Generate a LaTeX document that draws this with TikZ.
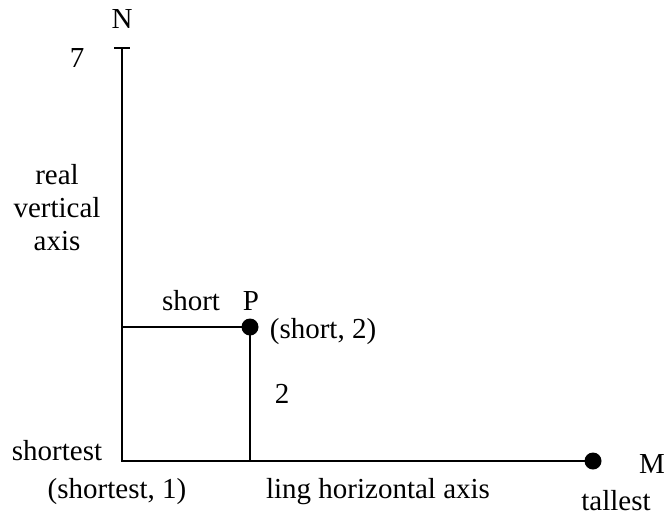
\documentclass[tikz,border=0pt]{standalone}
\usepackage{fontspec}
\setmainfont{Liberation Serif}
\usetikzlibrary{positioning}

\begin{document}
\begin{tikzpicture}[x=0.5pt, y=-0.5pt, line width=0.8pt,
    lbl/.style={font=\fontsize{14.5}{16.5}\selectfont, inner sep=0pt, anchor=base},
    dotnode/.style={circle, fill, inner sep=0pt, minimum size=8.5pt}]
    \useasboundingbox (0,0) rectangle (670,515);
    % Axes: origin, top tick and the two marked points.
    \coordinate (origin) at (122,461);
    \coordinate (axtop) at (122,48);
    \coordinate (tickL) at (114,48);
    \coordinate (tickR) at (130,48);
    \coordinate (Pleft) at (122,327);
    \coordinate (Pfoot) at (250,461);
    \node[dotnode] (P) at (250,327) {};
    \node[dotnode] (M) at (593,461) {};
    \draw (axtop) -- (origin) -- (M.center);
    \draw (tickL) -- (tickR);
    \draw (Pleft) -- (P.center) -- (Pfoot);
    % Labels.
    \node[lbl] (nN) at (122,28) {N};
    \node[lbl] (nseven) at (77,67) {7};
    \node[lbl, align=center] (nvert) at (57,250) {real\\vertical\\axis};
    \node[lbl] (nshort) at (191,310) {short};
    \node[lbl] (nP) at (251,310) {P};
    \node[lbl] (nPcoord) at (323,338) {(short, 2)};
    \node[lbl] (ntwo) at (282,403) {2};
    \node[lbl] (nshortest) at (57,460) {shortest};
    \node[lbl] (nOcoord) at (117,498) {(shortest, 1)};
    \node[lbl] (nhoriz) at (378,498) {ling horizontal axis};
    \node[lbl] (nM) at (652,473) {M};
    \node[lbl] (ntallest) at (616,510) {tallest};
\end{tikzpicture}
\end{document}
